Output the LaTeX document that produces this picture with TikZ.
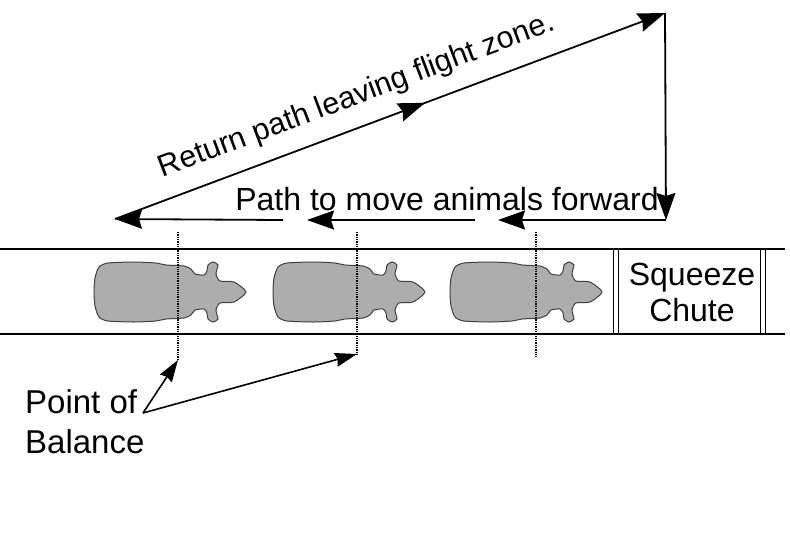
\documentclass[tikz,border=0pt]{standalone}
\usepackage{fontspec}
\setmainfont{Liberation Sans}
\usetikzlibrary{arrows.meta,decorations.markings}

\begin{document}
\begin{tikzpicture}[x=1pt,y=-1pt]
	\tikzset{every node/.style={inner sep=0pt}}
	\tikzset{label/.style={font=\fontsize{32}{36}\selectfont}}
	\tikzset{returnlabel/.style={font=\fontsize{30.5}{36}\selectfont}}
	\tikzset{balancelabel/.style={font=\fontsize{33}{40}\selectfont,align=left}}
	\tikzset{wall/.style={line width=1.8pt}}
	\tikzset{post/.style={line width=1.3pt}}
	\tikzset{flow/.style={line width=1.8pt,-{Stealth[length=27pt,width=19pt,inset=3pt]}}}
	\tikzset{pointer/.style={line width=1.6pt,-{Stealth[length=22pt,width=14pt,inset=2pt]}}}
	\tikzset{balance/.style={densely dotted,line width=1.3pt}}
	\tikzset{animal/.style={fill=black!32,draw=black!75,line width=1pt}}
	\tikzset{cow/.pic={\path[animal] plot[smooth cycle,tension=0.4] coordinates {(0,0) (1,-14) (5,-25) (14,-29) (40,-30) (62,-29) (72,-27) (90,-26) (97,-23) (101,-18) (110,-17) (113,-21) (114,-27) (119,-30) (124,-27) (122,-18) (126,-11) (140,-10) (152,0) (140,10) (126,11) (122,18) (124,27) (119,30) (114,27) (113,21) (110,17) (101,18) (97,23) (90,26) (72,27) (62,29) (40,30) (14,29) (5,25) (1,14)};}}
	\useasboundingbox (0,0) rectangle (790,542);
	% chute
	\draw[wall] (0,249) -- (785,249) (0,334) -- (785,334);
	\draw[post] (613.5,249) rectangle (618.5,334);
	\draw[post] (760.5,249) rectangle (765.5,334);
	\node[label,align=center] (chute) at (692,292) {Squeeze\\Chute};
	% animals
	\foreach \x in {94,273,450}
		\pic at (\x,292) {cow};
	\foreach \x/\y/\n in {178/360/1,357/354/2,536/357/3}
		\draw[balance] (\x,232) coordinate (bal\n t) -- (\x,\y) coordinate (bal\n b);
	% handler path
	\coordinate (turn) at (665,13);
	\coordinate (corner) at (666,220);
	\coordinate (back) at (115,219);
	\coordinate (gapa) at (498,220);
	\coordinate (gapb) at (475,220);
	\coordinate (gapc) at (307,220);
	\coordinate (gapd) at (283,220);
	\draw[flow,postaction={decorate},decoration={markings,mark=at position 0.564 with {\arrow{Stealth[length=27pt,width=19pt,inset=3pt]}}}] (back) -- node[returnlabel,sloped,above=15pt,pos=0.459] (return) {Return path leaving flight zone.} (turn);
	\draw[flow] (turn) -- (corner);
	\draw[flow] (corner) -- (gapa);
	\draw[flow] (gapb) -- (gapc);
	\draw[flow] (gapd) -- (back);
	\node[label,anchor=base] (forward) at (447,210) {Path to move animals forward};
	% point of balance
	\node[balancelabel,anchor=north west] (pob) at (25,389) {Point of\\Balance};
	\coordinate (pobtip) at (143,413);
	\draw[pointer] (pobtip) -- (bal1b);
	\draw[pointer] (pobtip) -- (bal2b);
\end{tikzpicture}
\end{document}
